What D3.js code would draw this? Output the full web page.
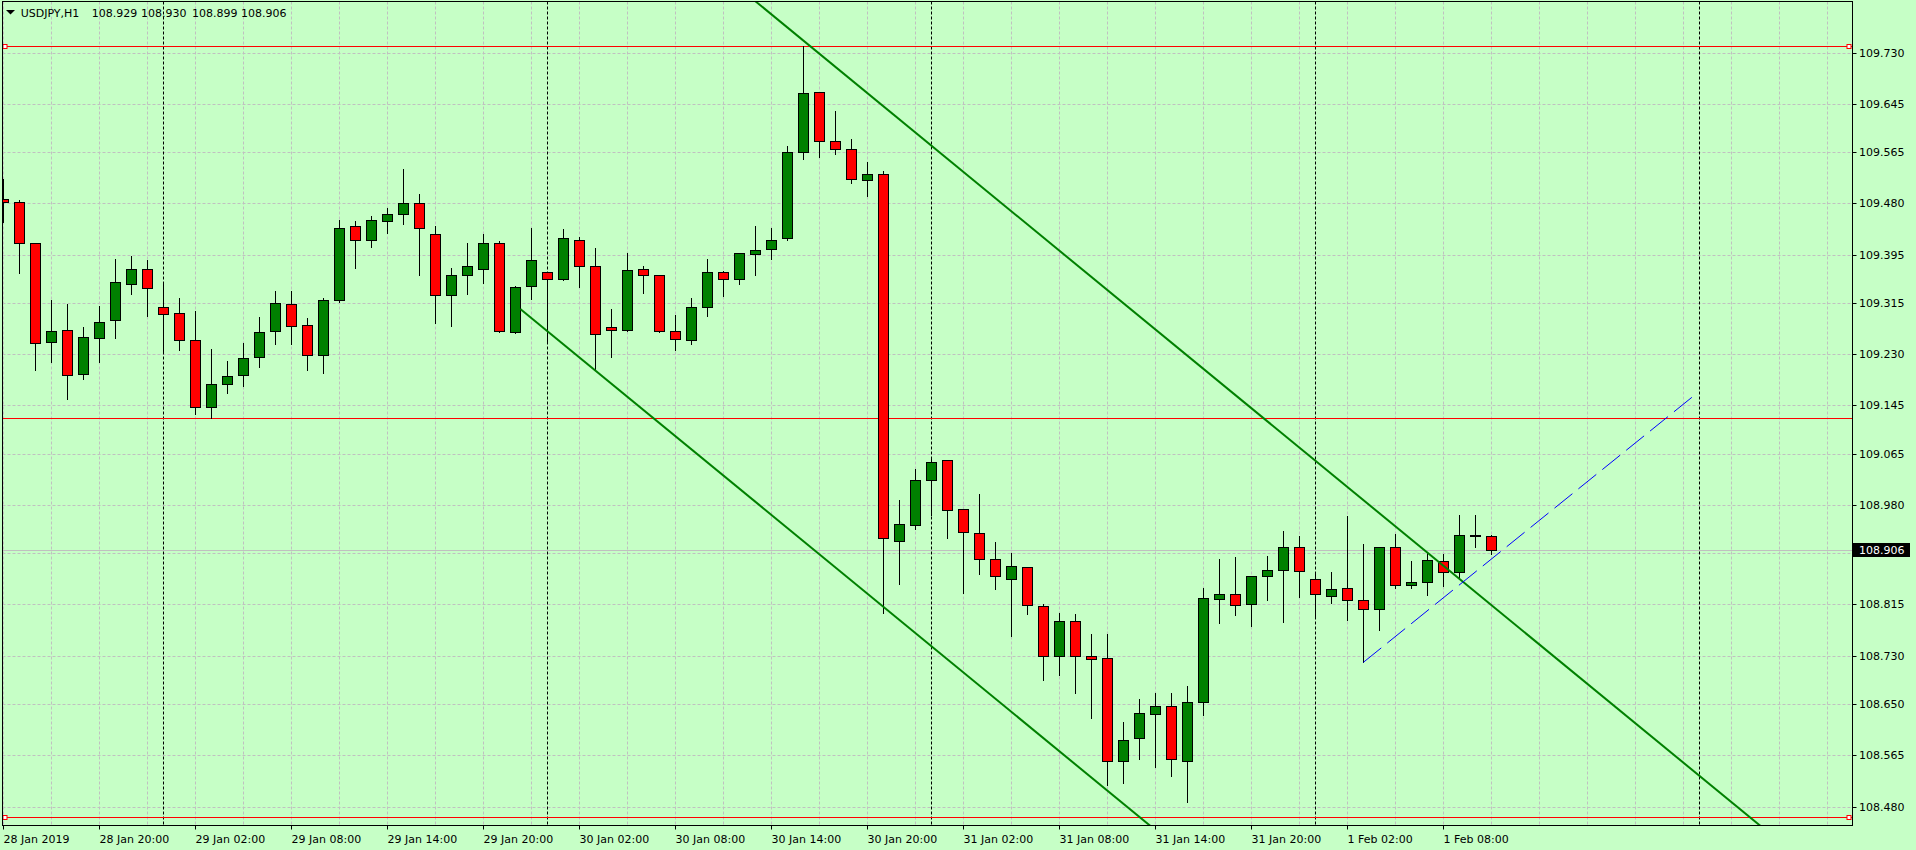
<!DOCTYPE html>
<html><head><meta charset="utf-8">
<script src="https://cdn.jsdelivr.net/npm/d3@7"></script>
<style>html,body{margin:0;padding:0;background:#c6ffc6;overflow:hidden}svg{display:block}</style>
</head><body><svg id="c" width="1916" height="850"></svg>
<script>
const symbol = "USDJPY,H1";
const headerValues = ["108.929", "108.930", "108.899", "108.906"];

const open = [109.487,109.482,109.414,109.250,109.270,109.197,109.256,109.286,109.347,109.371,
109.309,109.298,109.253,109.142,109.180,109.195,109.225,109.268,109.313,109.278,
109.228,109.319,109.442,109.419,109.450,109.462,109.480,109.430,109.328,109.362,
109.372,109.414,109.266,109.343,109.366,109.354,109.420,109.376,109.275,109.270,
109.371,109.361,109.268,109.253,109.308,109.366,109.354,109.396,109.404,109.422,
109.565,109.664,109.583,109.570,109.518,109.528,108.920,108.946,109.021,109.054,
108.973,108.933,108.890,108.857,108.877,108.812,108.730,108.787,108.729,108.726,
108.555,108.593,108.633,108.646,108.555,108.654,108.824,108.833,108.815,108.863,
108.872,108.911,108.858,108.829,108.842,108.822,108.807,108.911,108.847,108.853,
108.887,108.868,108.930,108.929];
const high = [109.520,109.486,109.414,109.320,109.313,109.275,109.310,109.388,109.393,109.386,
109.347,109.323,109.302,109.238,109.219,109.249,109.292,109.335,109.335,109.290,
109.323,109.452,109.451,109.459,109.472,109.537,109.496,109.443,109.373,109.414,
109.429,109.418,109.343,109.439,109.366,109.438,109.424,109.406,109.305,109.398,
109.376,109.362,109.295,109.323,109.388,109.368,109.397,109.443,109.439,109.575,
109.741,109.664,109.633,109.587,109.549,109.533,108.989,109.039,109.059,109.054,
108.973,108.998,108.918,108.901,108.877,108.815,108.801,108.799,108.766,108.766,
108.620,108.658,108.668,108.668,108.679,108.842,108.891,108.893,108.863,108.896,
108.936,108.928,108.868,108.868,108.961,108.915,108.911,108.931,108.887,108.900,
108.898,108.964,108.964,108.930];
const low = [109.449,109.365,109.203,109.217,109.155,109.188,109.217,109.256,109.330,109.294,
109.232,109.237,109.130,109.124,109.166,109.178,109.209,109.247,109.247,109.204,
109.199,109.317,109.373,109.408,109.431,109.445,109.362,109.282,109.276,109.329,
109.348,109.266,109.265,109.322,109.252,109.353,109.342,109.206,109.226,109.269,
109.332,109.266,109.237,109.247,109.294,109.327,109.347,109.362,109.388,109.419,
109.554,109.557,109.562,109.514,109.493,108.801,108.849,108.940,108.964,108.926,
108.834,108.866,108.841,108.763,108.799,108.689,108.698,108.669,108.627,108.516,
108.519,108.559,108.546,108.531,108.488,108.631,108.785,108.798,108.780,108.823,
108.786,108.828,108.795,108.818,108.790,108.719,108.773,108.842,108.843,108.830,
108.846,108.857,108.910,108.899];
const close = [109.482,109.414,109.248,109.268,109.195,109.258,109.284,109.349,109.372,109.339,
109.296,109.253,109.142,109.180,109.193,109.223,109.266,109.314,109.276,109.228,
109.319,109.440,109.419,109.452,109.462,109.480,109.439,109.328,109.362,109.376,
109.415,109.268,109.341,109.386,109.354,109.422,109.376,109.263,109.270,109.369,
109.361,109.268,109.255,109.309,109.366,109.354,109.397,109.402,109.420,109.566,
109.663,109.583,109.570,109.520,109.528,108.926,108.948,109.022,109.051,108.971,
108.935,108.891,108.862,108.878,108.814,108.730,108.787,108.729,108.725,108.555,
108.591,108.635,108.646,108.558,108.653,108.825,108.832,108.814,108.863,108.872,
108.911,108.870,108.832,108.840,108.822,108.807,108.911,108.847,108.853,108.888,
108.868,108.930,108.929,108.906];

const priceTicks = [108.480,108.565,108.650,108.730,108.815,108.900,108.980,109.065,109.145,
109.230,109.315,109.395,109.480,109.565,109.645,109.730];
const timeTickBars = [0,6,12,18,24,30,36,42,48,54,60,66,72,78,84,90];
const timeTickLabels = ["28 Jan 2019","28 Jan 20:00","29 Jan 02:00","29 Jan 08:00","29 Jan 14:00",
"29 Jan 20:00","30 Jan 02:00","30 Jan 08:00","30 Jan 14:00","30 Jan 20:00","31 Jan 02:00",
"31 Jan 08:00","31 Jan 14:00","31 Jan 20:00","1 Feb 02:00","1 Feb 08:00"];
const separatorBars = [10,34,58,82,106];
const levels = [109.741,109.1236,108.463];
const selectedLevels = [109.741,108.463];
const channelUpper = [[32.3,110.135],[120,108.226]];
const channelLower = [[32.3,109.305],[120,107.396]];
const blueLine = [[84.99,108.719],[105.55,109.159]];
const bidPrice = 108.906;
const bidLabel = "108.906";

const W = 1916, H = 850;
const plot = {l: 2.5, t: 1.5, r: 1852.5, b: 825.5};
const x = d3.scaleLinear().domain([0, 1]).range([3.5, 19.5]);
const y = d3.scaleLinear().domain([108.480, 109.730]).range([806.5, 52.6]);
const py = v => Math.round(y(v)) + 0.5;
const FONT = "DejaVu Sans";

const svg = d3.select("#c");
svg.append("rect").attr("width", W).attr("height", H).attr("fill", "#c6ffc6");
svg.append("defs").append("clipPath").attr("id", "clip").append("rect")
  .attr("x", plot.l).attr("y", plot.t).attr("width", plot.r - plot.l).attr("height", plot.b - plot.t);
const g = svg.append("g").attr("clip-path", "url(#clip)");

// grid
const gridBars = d3.range(0, 116, 3);
g.selectAll(".vg").data(gridBars).join("line")
  .attr("x1", d => x(d)).attr("x2", d => x(d)).attr("y1", plot.t).attr("y2", plot.b)
  .attr("stroke", "#c0c0c0").attr("stroke-dasharray", "3,2").attr("stroke-width", 1);
g.selectAll(".hg").data(priceTicks).join("line")
  .attr("x1", plot.l).attr("x2", plot.r).attr("y1", d => py(d)).attr("y2", d => py(d))
  .attr("stroke", "#c0c0c0").attr("stroke-dasharray", "3,2").attr("stroke-width", 1);

// period separators
g.selectAll(".sep").data(separatorBars).join("line")
  .attr("x1", d => x(d)).attr("x2", d => x(d)).attr("y1", plot.t).attr("y2", plot.b)
  .attr("stroke", "#000").attr("stroke-dasharray", "3,2").attr("stroke-width", 1);

// bid line
g.append("line").attr("x1", plot.l).attr("x2", plot.r).attr("y1", py(bidPrice)).attr("y2", py(bidPrice))
  .attr("stroke", "#c0c0c0").attr("stroke-width", 1);

// horizontal levels
g.selectAll(".lvl").data(levels).join("line")
  .attr("x1", plot.l).attr("x2", plot.r).attr("y1", d => py(d)).attr("y2", d => py(d))
  .attr("stroke", "#ff0000").attr("stroke-width", 1);

// candles
const idx = d3.range(open.length);
const cg = g.append("g");
cg.selectAll(".wick").data(idx).join("line")
  .attr("x1", i => x(i)).attr("x2", i => x(i))
  .attr("y1", i => Math.round(y(high[i]))).attr("y2", i => Math.round(y(low[i])) + 1)
  .attr("stroke", "#000").attr("stroke-width", 1);
cg.selectAll(".body").data(idx).join("rect")
  .attr("x", i => x(i) - 5).attr("width", 10)
  .attr("y", i => py(Math.max(open[i], close[i])))
  .attr("height", i => py(Math.min(open[i], close[i])) - py(Math.max(open[i], close[i])))
  .attr("fill", i => close[i] >= open[i] ? "#008000" : "#ff0000")
  .attr("stroke", "#000").attr("stroke-width", 1);

// channel lines
const lineGen = d3.line().x(d => x(d[0])).y(d => y(d[1]));
[channelUpper, channelLower].forEach(c => {
  g.append("path").attr("d", lineGen(c)).attr("stroke", "#008000").attr("stroke-width", 2).attr("fill", "none");
});
g.append("path").attr("d", lineGen(blueLine)).attr("stroke", "#0000ff").attr("stroke-width", 1)
  .attr("stroke-dasharray", "23,7.7").attr("fill", "none");

// selection markers on levels
selectedLevels.forEach(v => {
  [plot.l + 3, plot.r - 3].forEach(cx => {
    svg.append("rect").attr("x", cx - 2.5).attr("y", py(v) - 2).attr("width", 4).attr("height", 4)
      .attr("fill", "#ffffff").attr("stroke", "#ff0000").attr("stroke-width", 1);
  });
});

// frame
svg.append("rect").attr("x", plot.l).attr("y", plot.t).attr("width", plot.r - plot.l).attr("height", plot.b - plot.t)
  .attr("fill", "none").attr("stroke", "#000").attr("stroke-width", 1);

// price axis
const ya = svg.append("g");
ya.selectAll("line").data(priceTicks).join("line")
  .attr("x1", plot.r).attr("x2", plot.r + 4).attr("y1", d => py(d)).attr("y2", d => py(d))
  .attr("stroke", "#000");
ya.selectAll("text").data(priceTicks).join("text")
  .attr("x", 1859).attr("y", d => y(d) + 4)
  .attr("font-family", FONT).attr("font-size", 11).attr("fill", "#000")
  .text(d => d3.format(".3f")(d));

// bid price tag
const by = y(bidPrice);
svg.append("rect").attr("x", 1853).attr("y", Math.round(by) - 7).attr("width", 57).attr("height", 14).attr("fill", "#000");
svg.append("text").attr("x", 1859).attr("y", by + 4).attr("font-family", FONT).attr("font-size", 11)
  .attr("fill", "#fff").text(bidLabel);

// time axis
const xa = svg.append("g");
xa.selectAll("line").data(timeTickBars).join("line")
  .attr("x1", d => x(d)).attr("x2", d => x(d)).attr("y1", plot.b).attr("y2", plot.b + 4)
  .attr("stroke", "#000");
xa.selectAll("text").data(timeTickBars).join("text")
  .attr("x", d => x(d)).attr("y", 843)
  .attr("font-family", FONT).attr("font-size", 11).attr("fill", "#000")
  .text((d, i) => timeTickLabels[i]);

// header
svg.append("path").attr("d", "M6,10 L15,10 L10.5,14.5 Z").attr("fill", "#000");
const hdr = svg.append("g").attr("font-family", FONT).attr("font-size", 11).attr("fill", "#000");
hdr.append("text").attr("x", 20.7).attr("y", 17).text(symbol);
const hx = [91.7, 141, 192, 241];
headerValues.forEach((v, i) => hdr.append("text").attr("x", hx[i]).attr("y", 17).text(v));
</script></body></html>
